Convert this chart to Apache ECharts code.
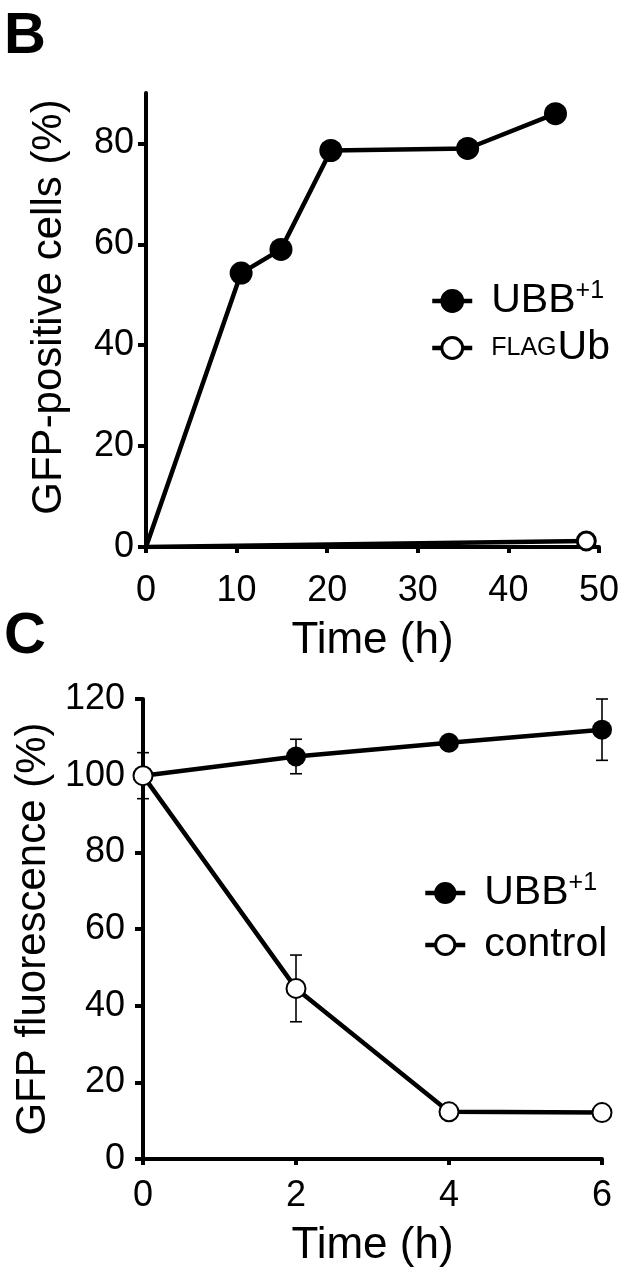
<!DOCTYPE html>
<html>
<head>
<meta charset="utf-8">
<script src="https://cdn.jsdelivr.net/npm/echarts@6/dist/echarts.min.js"></script>
<style>
html,body{margin:0;padding:0;background:#fff;}
#c{width:622px;height:1280px;}
</style>
</head>
<body>
<div id="c"></div>
<script>
// ---- Panel B data ----
var bTime = [0, 10.5, 14.9, 20.4, 35.5, 45.2];
var bUBB = [0, 54.3, 59, 78.6, 79, 85.9];
var bFlagTime = [0, 48.6];
var bFlag = [0, 1.2];
var bXTicks = [0, 10, 20, 30, 40, 50];
var bYTicks = [0, 20, 40, 60, 80];

// ---- Panel C data ----
var cTime = [0, 2, 4, 6];
var cUBB = [100, 105, 108.6, 112];
var cUBBErr = [6, 4.5, 1, 8];
var cControl = [100, 44.5, 12.3, 12.1];
var cControlErr = [0, 8.7, 0, 0];
var cXTicks = [0, 2, 4, 6];
var cYTicks = [0, 20, 40, 60, 80, 100, 120];

var FONT = "'Liberation Sans', Arial, Helvetica, sans-serif";

function pts(xs, ys, hideFirst) {
  return xs.map(function (x, i) {
    var item = { value: [x, ys[i]] };
    if (hideFirst && i === 0) item.symbolSize = 0;
    return item;
  });
}
function errData(xs, ys, es) {
  var out = [];
  xs.forEach(function (x, i) {
    if (es[i] > 0) out.push([x, ys[i] - es[i], ys[i] + es[i]]);
  });
  return out;
}
function errRender(params, api) {
  var x = api.value(0);
  var lo = api.coord([x, api.value(1)]);
  var hi = api.coord([x, api.value(2)]);
  var w = 6;
  var st = { stroke: '#000', lineWidth: 1.6 };
  return {
    type: 'group',
    children: [
      { type: 'line', shape: { x1: lo[0], y1: lo[1], x2: hi[0], y2: hi[1] }, style: st },
      { type: 'line', shape: { x1: lo[0] - w, y1: lo[1], x2: lo[0] + w, y2: lo[1] }, style: st },
      { type: 'line', shape: { x1: hi[0] - w, y1: hi[1], x2: hi[0] + w, y2: hi[1] }, style: st }
    ]
  };
}

var legendNames = {
  'UBB+1 (B)': '{n|UBB}{s|+1}',
  'FLAG Ub': '{f|FLAG}{n|Ub}',
  'UBB+1 (C)': '{n|UBB}{s|+1}',
  'control': '{n|control}'
};
var legendRich = {
  n: { fontSize: 41, fontFamily: FONT, color: '#000', lineHeight: 44 },
  s: { fontSize: 25, fontFamily: FONT, color: '#000', lineHeight: 33, verticalAlign: 'top' },
  f: { fontSize: 25, fontFamily: FONT, color: '#000', lineHeight: 44, verticalAlign: 'middle', padding: [0, 1, 0, 0] }
};

function axisX(idx, ticks, max, labelMargin, nameGap) {
  return {
    type: 'value', gridIndex: idx, min: 0, max: max, interval: ticks[1] - ticks[0],
    name: 'Time (h)', nameLocation: 'middle', nameGap: nameGap,
    nameTextStyle: { fontSize: 44, fontFamily: FONT, color: '#000' },
    axisLine: { show: true, onZero: false, lineStyle: { color: '#000', width: 4 } },
    axisTick: { show: true, inside: false, length: 6, lineStyle: { color: '#000', width: 4 } },
    axisLabel: { show: true, margin: labelMargin, fontSize: 36, fontFamily: FONT, color: '#000' },
    splitLine: { show: false }
  };
}
function axisY(idx, ticks, max, name, labelMargin, nameGap, pad) {
  return {
    type: 'value', gridIndex: idx, min: 0, max: max, interval: 20,
    name: name, nameLocation: 'middle', nameGap: nameGap,
    nameTextStyle: { fontSize: 42, fontFamily: FONT, color: '#000', padding: pad },
    axisLine: { show: true, onZero: false, lineStyle: { color: '#000', width: 4 } },
    axisTick: { show: true, inside: false, length: 8, customValues: ticks, lineStyle: { color: '#000', width: 4 } },
    axisLabel: { show: true, margin: labelMargin, customValues: ticks, fontSize: 36, fontFamily: FONT, color: '#000' },
    splitLine: { show: false }
  };
}

var chart = echarts.init(document.getElementById('c'), null, { renderer: 'canvas' });
chart.setOption({
  backgroundColor: '#fff',
  animation: false,
  graphic: [
    { type: 'text', left: 4, top: 8, style: { text: 'B', fontSize: 58, fontWeight: 'bold', fontFamily: FONT, fill: '#000' } },
    { type: 'text', left: 4, top: 608, style: { text: 'C', fontSize: 58, fontWeight: 'bold', fontFamily: FONT, fill: '#000' } }
  ],
  grid: [
    { left: 146, top: 93, width: 454, height: 454 },
    { left: 143, top: 699, width: 459, height: 460 }
  ],
  xAxis: [
    axisX(0, bXTicks, 50, 26, 72),
    axisX(1, cXTicks, 6, 19, 65)
  ],
  yAxis: [
    axisY(0, bYTicks, 90, 'GFP-positive cells (%)', 12, 76, [0, 0, 0, 26]),
    axisY(1, cYTicks, 120, 'GFP fluorescence (%)', 18, 74, [0, 0, 0, 0])
  ],
  legend: [
    {
      orient: 'vertical', left: 425, top: 274, itemGap: 6, itemWidth: 40, itemHeight: 26,
      data: ['UBB+1 (B)', 'FLAG Ub'], selectedMode: false,
      formatter: function (n) { return legendNames[n]; },
      textStyle: { padding: [0, 0, 0, 14], rich: legendRich },
      lineStyle: { width: 4.5 }, itemStyle: { borderWidth: 3 }
    },
    {
      orient: 'vertical', left: 418, top: 866, itemGap: 11, itemWidth: 40, itemHeight: 24,
      data: ['UBB+1 (C)', 'control'], selectedMode: false,
      formatter: function (n) { return legendNames[n]; },
      textStyle: { padding: [0, 0, 0, 14], rich: legendRich },
      lineStyle: { width: 4.5 }, itemStyle: { borderWidth: 3 }
    }
  ],
  series: [
    {
      name: 'FLAG Ub', type: 'line', xAxisIndex: 0, yAxisIndex: 0,
      data: pts(bFlagTime, bFlag, true), symbol: 'circle', symbolSize: 18,
      lineStyle: { color: '#000', width: 4.5 },
      itemStyle: { color: '#fff', borderColor: '#000', borderWidth: 3 }, z: 3
    },
    {
      name: 'UBB+1 (B)', type: 'line', xAxisIndex: 0, yAxisIndex: 0,
      data: pts(bTime, bUBB, true), symbol: 'circle', symbolSize: 23,
      lineStyle: { color: '#000', width: 4.5 },
      itemStyle: { color: '#000', borderColor: '#000', borderWidth: 0 }, z: 4
    },
    {
      name: 'err UBB', type: 'custom', xAxisIndex: 1, yAxisIndex: 1,
      data: errData(cTime, cUBB, cUBBErr), renderItem: errRender, z: 2
    },
    {
      name: 'err control', type: 'custom', xAxisIndex: 1, yAxisIndex: 1,
      data: errData(cTime, cControl, cControlErr), renderItem: errRender, z: 2
    },
    {
      name: 'UBB+1 (C)', type: 'line', xAxisIndex: 1, yAxisIndex: 1,
      data: pts(cTime, cUBB, false), symbol: 'circle', symbolSize: 20,
      lineStyle: { color: '#000', width: 4.5 },
      itemStyle: { color: '#000', borderColor: '#000', borderWidth: 0 }, z: 3
    },
    {
      name: 'control', type: 'line', xAxisIndex: 1, yAxisIndex: 1,
      data: pts(cTime, cControl, false), symbol: 'circle', symbolSize: 19,
      lineStyle: { color: '#000', width: 4.5 },
      itemStyle: { color: '#fff', borderColor: '#000', borderWidth: 2 }, z: 4
    }
  ]
});
</script>
</body>
</html>
